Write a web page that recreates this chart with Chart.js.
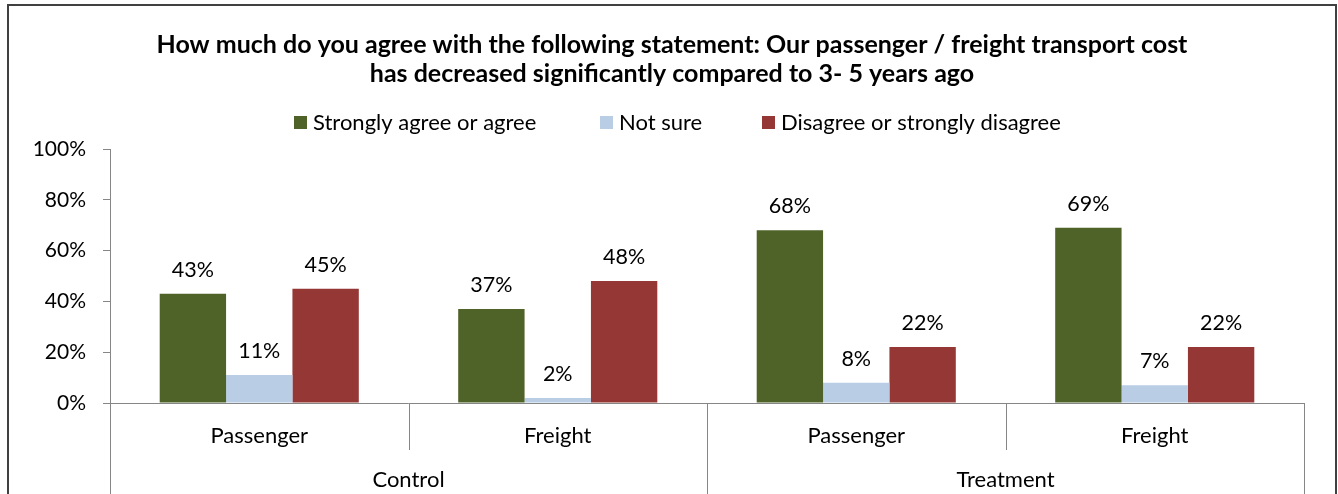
<!DOCTYPE html>
<html>
<head>
<meta charset="utf-8">
<script src="https://cdn.jsdelivr.net/npm/chart.js@4.4.1/dist/chart.umd.min.js"></script>
<style>
  html, body { margin: 0; padding: 0; background: #ffffff; overflow: hidden; }
  #frame {
    position: absolute;
    left: 7px;
    top: 4px;
    width: 1326px;
    height: 500px;
    border: 2px solid #404040;
    background: #ffffff;
  }
  #chartBox { position: relative; width: 1326px; height: 488px; }
</style>
</head>
<body>
<div id="frame">
  <div id="chartBox"><canvas id="costChart"></canvas></div>
</div>
<script>
const FONT = "Lato, 'Open Sans', sans-serif";

const titleLines = [
  "How much do you agree with the following statement: Our passenger / freight transport cost",
  "has decreased significantly compared to 3- 5 years ago",
];
const categories = ["Passenger", "Freight", "Passenger", "Freight"];
const groups = ["Control", "Treatment"];
const groupSize = 2;
const seriesNames = ["Strongly agree or agree", "Not sure", "Disagree or strongly disagree"];
const seriesColors = ["#4f6228", "#b9cde5", "#953735"];
const agreeValues = [43, 37, 68, 69];
const notSureValues = [11, 2, 8, 7];
const disagreeValues = [45, 48, 22, 22];
const yTicks = [0, 20, 40, 60, 80, 100];

const axisColor = "#868686";
const textColor = "#000000";

// center the title on the whole canvas, not just the padded layout box
const titleSpan = {
  id: "titleSpan",
  afterLayout(chart) {
    const t = chart.titleBlock;
    if (!t) return;
    t.left = 0;
    t.right = chart.width;
    t.width = chart.width;
  },
};

// percentage labels above every bar
const barLabels = {
  id: "barLabels",
  afterDatasetsDraw(chart) {
    const { ctx } = chart;
    ctx.save();
    ctx.font = `21.5px ${FONT}`;
    ctx.fillStyle = textColor;
    ctx.textAlign = "center";
    ctx.textBaseline = "alphabetic";
    chart.data.datasets.forEach((ds, di) => {
      chart.getDatasetMeta(di).data.forEach((bar, i) => {
        ctx.fillText(`${ds.data[i]}%`, bar.x, bar.y - 17);
      });
    });
    ctx.restore();
  },
};

// category dividers below the axis and the outer group labels
const groupAxis = {
  id: "groupAxis",
  afterDraw(chart) {
    const { ctx } = chart;
    const x = chart.scales.x;
    const step = x.getPixelForValue(1) - x.getPixelForValue(0);
    const bottom = chart.height;
    const top = x.top;
    ctx.save();
    ctx.strokeStyle = axisColor;
    ctx.lineWidth = 1;
    for (let i = 0; i <= categories.length; i++) {
      const px = Math.round(x.getPixelForValue(0) - step / 2 + i * step) + 0.5;
      const isGroupEdge = i % groupSize === 0;
      ctx.beginPath();
      ctx.moveTo(px, top);
      ctx.lineTo(px, isGroupEdge ? bottom : top + 47);
      ctx.stroke();
    }
    ctx.font = `22px ${FONT}`;
    ctx.fillStyle = textColor;
    ctx.textAlign = "center";
    ctx.textBaseline = "middle";
    groups.forEach((name, g) => {
      const first = x.getPixelForValue(g * groupSize);
      const last = x.getPixelForValue(g * groupSize + groupSize - 1);
      ctx.fillText(name, (first + last) / 2, top + 77);
    });
    ctx.restore();
  },
};

// legend row under the title
const legendRow = {
  id: "legendRow",
  afterDraw(chart) {
    const { ctx } = chart;
    const boxX = [285, 591, 753];
    const y = 117;
    ctx.save();
    ctx.font = `22px ${FONT}`;
    ctx.textBaseline = "middle";
    ctx.textAlign = "left";
    seriesNames.forEach((name, i) => {
      ctx.fillStyle = seriesColors[i];
      ctx.fillRect(boxX[i], y - 7, 13, 13);
      ctx.fillStyle = textColor;
      ctx.fillText(name, boxX[i] + 19, y);
    });
    ctx.restore();
  },
};

const datasets = [agreeValues, notSureValues, disagreeValues].map((values, i) => ({
  label: seriesNames[i],
  data: values,
  backgroundColor: seriesColors[i],
  borderWidth: 0,
  categoryPercentage: 0.667,
  barPercentage: 1.0,
}));

new Chart(document.getElementById("costChart"), {
  type: "bar",
  data: { labels: categories, datasets },
  plugins: [titleSpan, barLabels, groupAxis, legendRow],
  options: {
    responsive: true,
    maintainAspectRatio: false,
    animation: false,
    layout: { padding: { left: 0, right: 31, top: 0, bottom: 0 } },
    plugins: {
      legend: { display: false },
      tooltip: { enabled: false },
      title: {
        display: true,
        text: titleLines,
        color: textColor,
        font: { family: FONT, size: 25, weight: "bold", lineHeight: 1.16 },
        padding: { top: 24, bottom: 61 },
      },
    },
    scales: {
      x: {
        grid: { display: false },
        border: { display: true, color: axisColor, width: 1 },
        ticks: {
          color: textColor,
          font: { family: FONT, size: 22 },
          padding: 12,
          maxRotation: 0,
        },
        afterFit: (scale) => { scale.height = 91; },
      },
      y: {
        min: 0,
        max: 100,
        afterBuildTicks: (scale) => { scale.ticks = yTicks.map((v) => ({ value: v })); },
        grid: { drawOnChartArea: false, drawTicks: true, tickLength: 7, color: axisColor },
        border: { display: true, color: axisColor, width: 1 },
        ticks: {
          color: textColor,
          font: { family: FONT, size: 21 },
          padding: 17,
          callback: (v) => `${v}%`,
        },
        afterFit: (scale) => { scale.width = 101; },
      },
    },
  },
});
</script>
</body>
</html>
